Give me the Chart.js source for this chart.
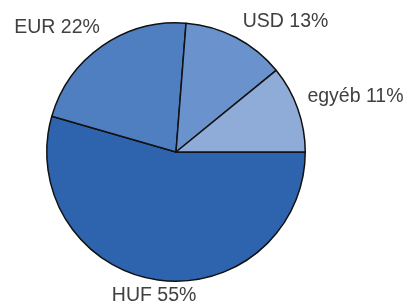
<!DOCTYPE html>
<html>
<head>
  <meta charset="utf-8">
  <title>Devizaösszetétel</title>
  <script src="https://cdn.jsdelivr.net/npm/chart.js"></script>
  <style>
    html, body { margin: 0; padding: 0; background: #fff; }
    #wrap { width: 405px; height: 304px; }
  </style>
</head>
<body>
  <div id="wrap"><canvas id="chart"></canvas></div>
  <script>
    // slices listed clockwise starting from 3 o'clock
    const labels = ['HUF', 'EUR', 'USD', 'egyéb'];
    const shares = [55, 22, 13, 11];
    const colors = ['#2e64ad', '#4f7fc0', '#6a93cd', '#8fabd8'];

    // draws "NAME xx%" just outside each slice, like the spreadsheet labels
    const outsideLabels = {
      id: 'outsideLabels',
      afterDatasetsDraw(chart) {
        const ctx = chart.ctx;
        const meta = chart.getDatasetMeta(0);
        ctx.save();
        ctx.font = '19.5px "Liberation Sans", Arial, sans-serif';
        ctx.fillStyle = '#404040';
        meta.data.forEach((arc, i) => {
          const mid = (arc.startAngle + arc.endAngle) / 2;
          const r = arc.outerRadius + 6;
          const cos = Math.cos(mid), sin = Math.sin(mid);
          let x = arc.x + cos * r;
          let y = arc.y + sin * r;
          if (cos > 0.3) { ctx.textAlign = 'left'; x += 4; }
          else if (cos < -0.3) { ctx.textAlign = 'right'; x += 1; }
          else { ctx.textAlign = 'center'; x -= 3; }
          if (sin > 0) {
            ctx.textBaseline = 'top';
          } else {
            ctx.textBaseline = 'alphabetic';
            y -= cos < 0 ? 8 : 5;
          }
          ctx.fillText(labels[i] + ' ' + shares[i] + '%', x, y);
        });
        ctx.restore();
      }
    };

    new Chart(document.getElementById('chart'), {
      type: 'pie',
      data: {
        labels: labels,
        datasets: [{
          data: shares,
          backgroundColor: colors,
          borderColor: '#111',
          borderWidth: 1.5
        }]
      },
      options: {
        responsive: true,
        maintainAspectRatio: false,
        animation: false,
        rotation: 90,
        layout: { padding: { left: 46, right: 99, top: 21, bottom: 21 } },
        plugins: {
          legend: { display: false },
          tooltip: { enabled: false }
        }
      },
      plugins: [outsideLabels]
    });
  </script>
</body>
</html>
